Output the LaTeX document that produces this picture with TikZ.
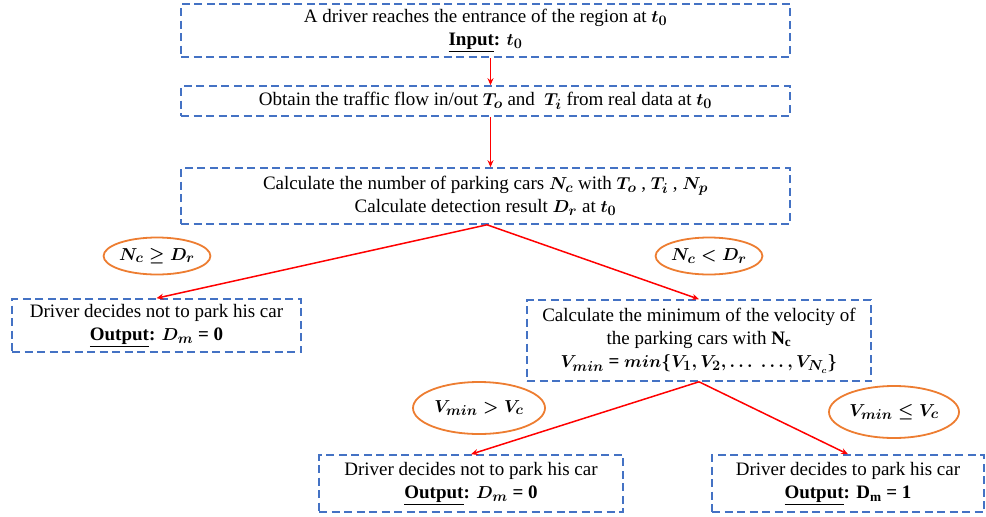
\documentclass[tikz,border=0pt]{standalone}
\usepackage{fontspec}
\setmainfont{Liberation Serif}
\usetikzlibrary{shapes.geometric,arrows.meta}
\definecolor{boxblue}{HTML}{4472C4}
\definecolor{ellorange}{HTML}{ED7D31}
\tikzset{
  flowbox/.style={draw=boxblue, line width=1.6pt, dash pattern=on 8pt off 4.5pt,
    rectangle, inner sep=0pt, align=center,
    font=\fontsize{19}{23}\selectfont\boldmath},
  condell/.style={draw=ellorange, ellipse, line width=1.8pt, inner sep=0pt,
    font=\fontsize{19}{23}\selectfont\boldmath},
  flowarrow/.style={draw=red, line width=1.5pt, -{Stealth[length=7pt,width=6pt]}}
}
\begin{document}
\begin{tikzpicture}[x=1pt,y=-1pt]
\useasboundingbox (0,0) rectangle (986,517);
\node[flowbox, minimum width=609pt, minimum height=53pt] (b1) at (485.5,30.5)
  {A driver reaches the entrance of the region at $t_0$\\
   \textbf{\underline{Input}:} $t_0$};
\node[flowbox, minimum width=609pt, minimum height=30pt] (b2) at (485.5,101)
  {Obtain the traffic flow in/out $T_o$ and \ $T_i$ from real data at $t_0$};
\node[flowbox, minimum width=609pt, minimum height=56pt] (b3) at (485.5,196)
  {Calculate the number of parking cars $N_c$ with $T_o$ , $T_i$ , $N_p$\\
   Calculate detection result $D_r$ at $t_0$};
\node[flowbox, minimum width=289pt, minimum height=53pt] (b4) at (156.5,325.5)
  {Driver decides not to park his car\\
   \textbf{\underline{Output}:} $D_m$ \textbf{= 0}};
\node[flowbox, minimum width=344pt, minimum height=81pt] (b5) at (699,340.5)
  {Calculate the minimum of the velocity of\\
   the parking cars with \textbf{N\textsubscript{c}}\\
   $V_{min}$ \textbf{=} $min\bigl\{V_1, V_2, \ldots\ \ldots, V_{N_c}\bigr\}$};
\node[flowbox, minimum width=304pt, minimum height=57pt] (b6) at (471,483.5)
  {Driver decides not to park his car\\
   \textbf{\underline{Output}:} $D_m$ \textbf{= 0}};
\node[flowbox, minimum width=272pt, minimum height=57pt] (b7) at (848,483.5)
  {Driver decides to park his car\\
   \textbf{\underline{Output}: D\textsubscript{m} = 1}};
\node[condell, minimum width=100pt, minimum height=37pt] (e1) at (157,256) {$N_c \geq D_r$};
\node[condell, minimum width=100pt, minimum height=37pt] (e2) at (709,256) {$N_c < D_r$};
\node[condell, minimum width=132pt, minimum height=52pt] (e3) at (479,408) {$V_{min} > V_c$};
\node[condell, minimum width=130pt, minimum height=52pt] (e4) at (894,412) {$V_{min} \leq V_c$};
\draw[flowarrow] ([xshift=5pt]b1.south) -- ([xshift=5pt]b2.north);
\draw[flowarrow] ([xshift=5pt]b2.south) -- ([xshift=5pt]b3.north);
\draw[flowarrow] ([xshift=1.5pt]b3.south) -- (b4.north);
\draw[flowarrow] ([xshift=1.5pt]b3.south) -- (b5.north);
\draw[flowarrow] (b5.south) -- (b6.north);
\draw[flowarrow] (b5.south) -- (b7.north);
\end{tikzpicture}
\end{document}
